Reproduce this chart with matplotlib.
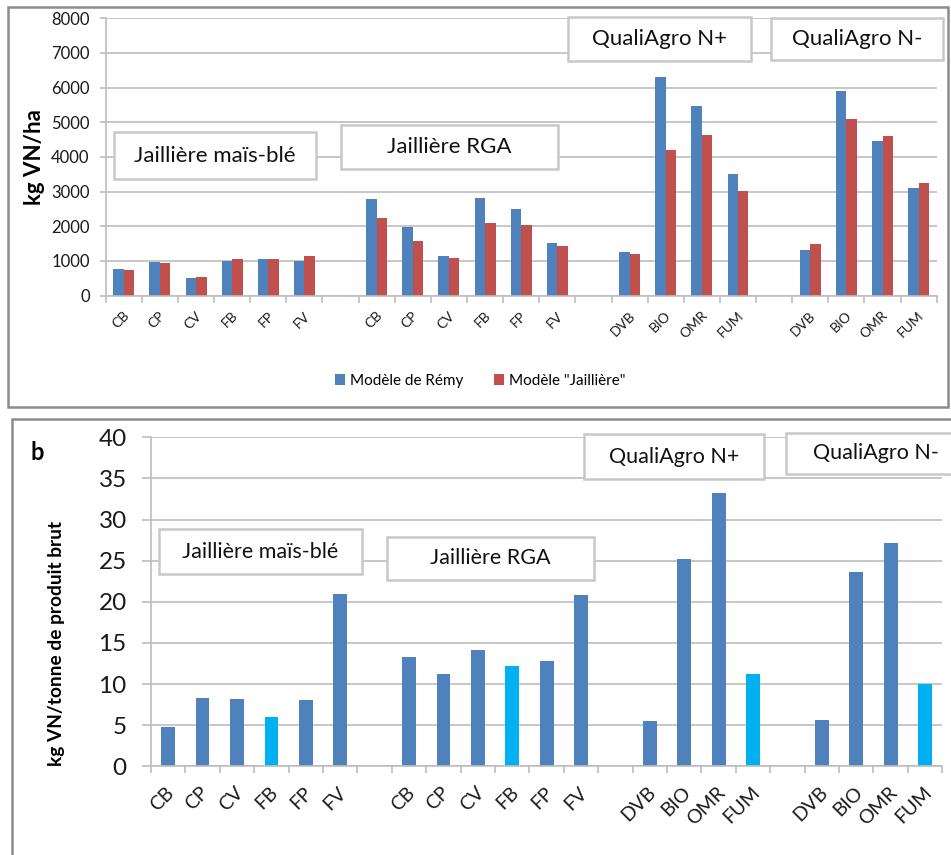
import matplotlib
matplotlib.use("Agg")
import matplotlib.pyplot as plt
import matplotlib.transforms as mtransforms
from matplotlib.patches import Rectangle
import numpy as np

plt.rcParams['font.family'] = ['Lato', 'DejaVu Sans']

# categories: four sites, separated by an empty slot
categories = ['CB', 'CP', 'CV', 'FB', 'FP', 'FV', '',
              'CB', 'CP', 'CV', 'FB', 'FP', 'FV', '',
              'DVB', 'BIO', 'OMR', 'FUM', '',
              'DVB', 'BIO', 'OMR', 'FUM']

# (a) kg VN/ha
remy = [760, 970, 500, 1010, 1050, 1010, np.nan,
        2790, 1990, 1150, 2810, 2490, 1510, np.nan,
        1270, 6300, 5470, 3510, np.nan,
        1320, 5900, 4470, 3095]
jailliere = [730, 940, 530, 1050, 1050, 1150, np.nan,
             2230, 1580, 1080, 2090, 2040, 1430, np.nan,
             1200, 4210, 4635, 3020, np.nan,
             1480, 5085, 4595, 3260]

# (b) kg VN / tonne de produit brut
per_tonne = [4.74, 8.31, 8.23, 5.96, 8.1, 20.9, np.nan,
             13.25, 11.19, 14.2, 12.16, 12.77, 20.83, np.nan,
             5.47, 25.25, 33.23, 11.27, np.nan,
             5.63, 23.67, 27.11, 10.01]
highlight = ['FB', 'FUM']

blue = '#4F81BD'
red = '#C0504D'
cyan = '#00B0F0'
grid_c = '#BEBEBE'
box_c = '#C8C8C8'

W, H = 951, 855
fig = plt.figure(figsize=(W / 100, H / 100), dpi=100)


def px_axes(x0, x1, ytop, ybot):
    return fig.add_axes([x0 / W, 1 - ybot / H, (x1 - x0) / W, (ybot - ytop) / H])


def style_axes(ax, ymax, ystep, ysize, ytick, ypad, xsize, xpad, xshift):
    ax.set_xlim(-0.5, len(categories) - 0.5)
    ax.set_ylim(0, ymax)
    ax.set_yticks(np.arange(0, ymax + 1e-9, ystep))
    ax.yaxis.grid(True, color=grid_c, linewidth=1.2)
    ax.set_axisbelow(True)
    for s in ['top', 'right']:
        ax.spines[s].set_visible(False)
    for s in ['left', 'bottom']:
        ax.spines[s].set_color(grid_c)
        ax.spines[s].set_linewidth(1.2)
    ax.tick_params(axis='y', length=ytick, width=1.2, color=grid_c,
                   labelsize=ysize, pad=ypad, labelcolor='#1a1a1a')
    ax.set_xticks(np.arange(len(categories)))
    ax.set_xticklabels(categories)
    ax.set_xticks(np.arange(-0.5, len(categories)), minor=True)
    ax.tick_params(axis='x', which='minor', length=5, width=1.2, color=grid_c)
    ax.tick_params(axis='x', which='major', length=0, pad=xpad,
                   labelsize=xsize, labelrotation=45, labelcolor='#1a1a1a')
    shift = mtransforms.ScaledTranslation(xshift / 72, 0, fig.dpi_scale_trans)
    for lab in ax.get_xticklabels():
        lab.set_horizontalalignment('right')
        lab.set_verticalalignment('center')
        lab.set_rotation_mode('anchor')
        lab.set_transform(lab.get_transform() + shift)


def panel_box(x0, y0, x1, y1):
    fig.patches.append(Rectangle((x0 / W, 1 - y1 / H), (x1 - x0) / W, (y1 - y0) / H,
                                 transform=fig.transFigure, fill=False,
                                 edgecolor='#8C8C8C', linewidth=1.8, zorder=0))


def label_box(x0, y0, x1, y1, text, size):
    fig.patches.append(Rectangle((x0 / W, 1 - y1 / H), (x1 - x0) / W, (y1 - y0) / H,
                                 transform=fig.transFigure, facecolor='white',
                                 edgecolor=box_c, linewidth=1.8, zorder=3))
    fig.text((x0 + x1) / 2 / W, 1 - (y0 + y1) / 2 / H, text, ha='center',
             va='center', fontsize=size, color='#111111', zorder=4)


x = np.arange(len(categories))

# ---- panel a ----
panel_box(8, 7, 948, 407)
ax1 = px_axes(105.7, 936.7, 18.3, 295.6)
bw = 0.29
ax1.bar(x - bw / 2, remy, bw, color=blue, label='Modèle de Rémy', zorder=2)
ax1.bar(x + bw / 2, jailliere, bw, color=red, label='Modèle "Jaillière"', zorder=2)
style_axes(ax1, 8000, 1000, 12, 4.5, 7, 10, 13, 2.5)
ax1.set_ylabel('kg VN/ha', fontsize=16, fontweight='bold')
ax1.yaxis.set_label_coords(-0.073, 0.5)
ax1.legend(loc='center', bbox_to_anchor=(480 / W, 1 - 381 / H),
           bbox_transform=fig.transFigure, ncol=2, frameon=False, fontsize=11,
           handlelength=0.7, handleheight=0.7, handletextpad=0.3, columnspacing=2.0)

label_box(113.7, 132.3, 316.3, 178.7, 'Jaillière maïs-blé', 16)
label_box(341, 124.7, 558.3, 169, 'Jaillière RGA', 16)
label_box(567.7, 16.7, 751, 61, 'QualiAgro N+', 16)
label_box(771, 18.3, 942.7, 60.3, 'QualiAgro N-', 16)

# ---- panel b ----
panel_box(12, 419, 960, 870)
ax2 = px_axes(151, 942.3, 437.3, 766.3)
colors = [cyan if c in highlight else blue for c in categories]
ax2.bar(x, per_tonne, 0.4, color=colors, zorder=2)
style_axes(ax2, 40, 5, 17.5, 6.5, 11, 14, 17, 2.5)
ax2.set_ylabel('kg VN/tonne de produit brut', fontsize=13.8, fontweight='bold')
ax2.yaxis.set_label_coords(-0.109, 0.372)
fig.text(31 / W, 1 - 452 / H, 'b', fontsize=17, fontweight='bold', va='center')

label_box(159.3, 529.3, 361.7, 573.7, 'Jaillière maïs-blé', 15.5)
label_box(387.3, 536.7, 594, 580.3, 'Jaillière RGA', 15.5)
label_box(584.3, 434.3, 763.7, 479, 'QualiAgro N+', 15.5)
label_box(786.3, 432.7, 965, 474, 'QualiAgro N-', 15.5)

fig.savefig('out.png', dpi=100)
